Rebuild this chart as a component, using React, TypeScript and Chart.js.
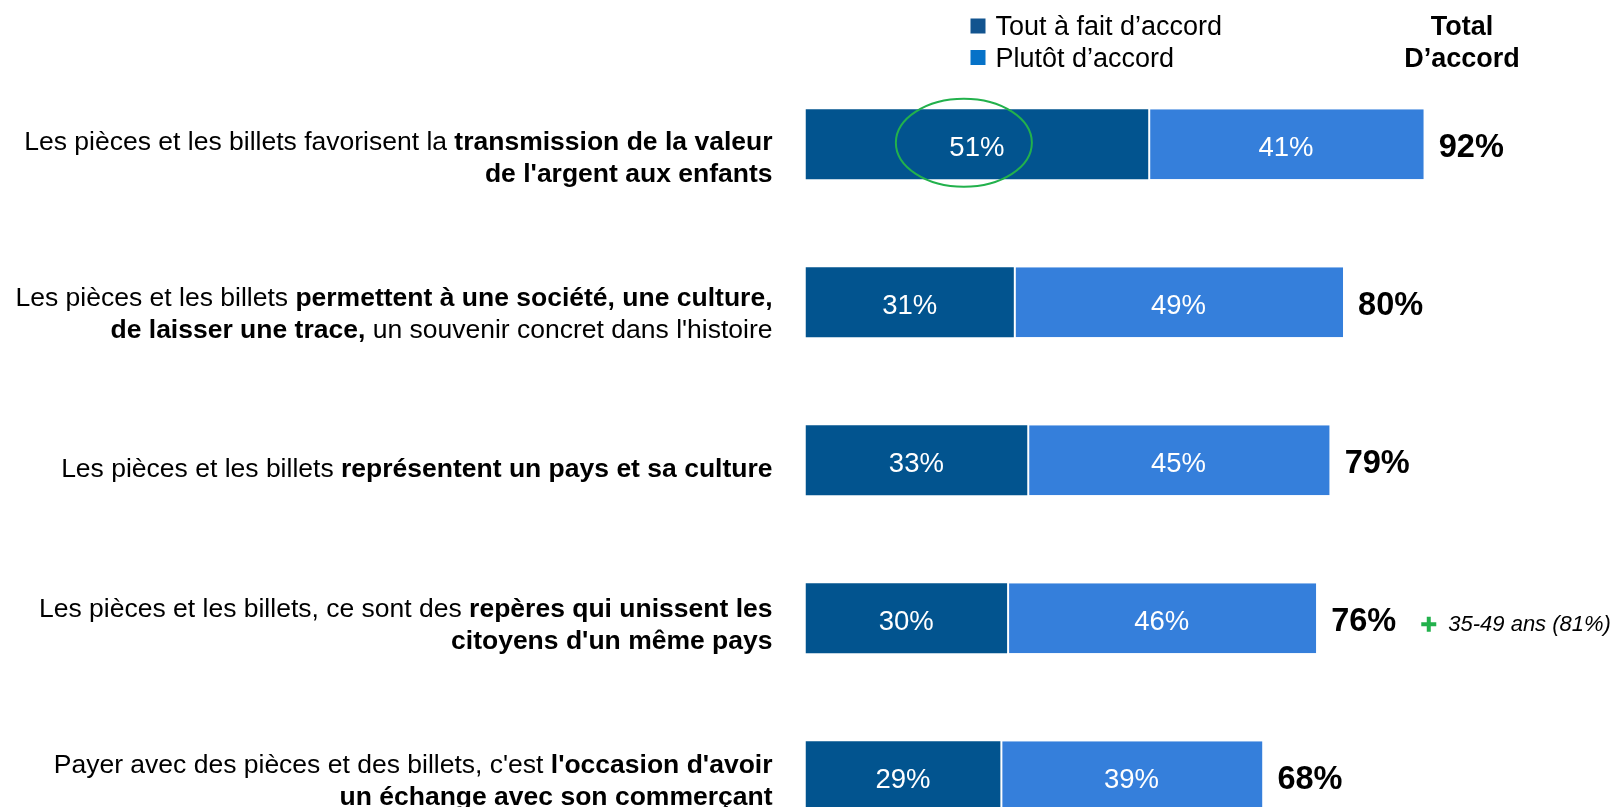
import React, { useEffect, useRef } from "react";
import { Chart, registerables } from "chart.js";

Chart.register(...registerables);

// ---- Data ----
const categories = ["q1", "q2", "q3", "q4", "q5"];
const seriesNames = ["Tout à fait d’accord", "Plutôt d’accord"];
const toutAFait = [51, 31, 33, 30, 29];
const plutot = [41, 49, 45, 46, 39];
const totals = ["92%", "80%", "79%", "76%", "68%"];
const totalHeader = ["Total", "D’accord"];
const noteIndex = 3;
const noteText = "35-49 ans (81%)";
const highlightIndex = 0;

// label lines: each line is a list of [text, bold]
const labelLines: [string, boolean][][][] = [
  [
    [["Les pièces et les billets favorisent la ", false], ["transmission de la valeur", true]],
    [["de l'argent aux enfants", true]],
  ],
  [
    [["Les pièces et les billets ", false], ["permettent à une société, une culture,", true]],
    [["de laisser une trace,", true], [" un souvenir concret dans l'histoire", false]],
  ],
  [
    [["Les pièces et les billets ", false], ["représentent un pays et sa culture", true]],
  ],
  [
    [["Les pièces et les billets, ce sont des ", false], ["repères qui unissent les", true]],
    [["citoyens d'un même pays", true]],
  ],
  [
    [["Payer avec des pièces et des billets, c'est ", false], ["l'occasion d'avoir", true]],
    [["un échange avec son commerçant", true]],
  ],
];

// ---- Styles / layout ----
const FONT = '"Liberation Sans", Arial, sans-serif';
const DARK = "#02548f";
const LIGHT = "#357fdb";
const LEGEND_DARK = "#12548f";
const LEGEND_LIGHT = "#0672c8";
const GREEN = "#22b14c";
const LABEL_NUDGE = [14, 12, 9, 7, 5];

const customPlugin = {
  id: "customDraw",
  afterDatasetsDraw(chart: any) {
    const ctx: CanvasRenderingContext2D = chart.ctx;
    const area = chart.chartArea;
    ctx.save();

    // values inside bars
    const vals = [toutAFait, plutot];
    ctx.fillStyle = "#ffffff";
    ctx.font = `27.5px ${FONT}`;
    ctx.textAlign = "center";
    ctx.textBaseline = "middle";
    [0, 1].forEach((di) => {
      const meta = chart.getDatasetMeta(di);
      meta.data.forEach((el: any, i: number) => {
        const p = el.getProps(["x", "y", "base"], true);
        ctx.fillText(vals[di][i] + "%", (p.x + p.base) / 2, p.y + 4);
      });
    });

    // totals + note
    const lightMeta = chart.getDatasetMeta(1);
    lightMeta.data.forEach((el: any, i: number) => {
      const p = el.getProps(["x", "y", "base"], true);
      const tx = p.x + 15;
      ctx.font = `bold 32.5px ${FONT}`;
      ctx.fillStyle = "#000";
      ctx.textAlign = "left";
      ctx.fillText(totals[i], tx, p.y + 4);
      if (i === noteIndex) {
        const w = ctx.measureText(totals[i]).width;
        const px = tx + w + 25;
        ctx.strokeStyle = GREEN;
        ctx.lineWidth = 4;
        ctx.beginPath();
        ctx.moveTo(px, p.y + 6);
        ctx.lineTo(px + 15, p.y + 6);
        ctx.moveTo(px + 7.5, p.y - 1.5);
        ctx.lineTo(px + 7.5, p.y + 13.5);
        ctx.stroke();
        ctx.font = `italic 22px ${FONT}`;
        ctx.fillStyle = "#000";
        ctx.fillText(noteText, px + 27, p.y + 7);
      }
    });

    // left labels
    const darkMeta = chart.getDatasetMeta(0);
    const rightX = area.left - 33;
    const lineH = 32;
    darkMeta.data.forEach((el: any, i: number) => {
      const p = el.getProps(["y"], true);
      const lines = labelLines[i];
      const n = lines.length;
      const startY = p.y + LABEL_NUDGE[i] - ((n - 1) * lineH) / 2;
      lines.forEach((segs, li) => {
        let total = 0;
        segs.forEach(([t, b]) => {
          ctx.font = `${b ? "bold " : ""}26.5px ${FONT}`;
          total += ctx.measureText(t).width;
        });
        let x = rightX - total;
        const y = startY + li * lineH;
        ctx.textAlign = "left";
        ctx.textBaseline = "middle";
        ctx.fillStyle = "#000";
        segs.forEach(([t, b]) => {
          ctx.font = `${b ? "bold " : ""}26.5px ${FONT}`;
          ctx.fillText(t, x, y);
          x += ctx.measureText(t).width;
        });
      });
    });

    // highlight ellipse
    const hel = darkMeta.data[highlightIndex];
    if (hel) {
      const p = hel.getProps(["x", "y", "base"], true);
      ctx.strokeStyle = GREEN;
      ctx.lineWidth = 2;
      ctx.beginPath();
      ctx.ellipse((p.x + p.base) / 2 - 13, p.y - 1.5, 68, 44, 0, 0, Math.PI * 2);
      ctx.stroke();
    }

    // legend
    const legendColors = [LEGEND_DARK, LEGEND_LIGHT];
    const legendYs = [26, 57.5];
    seriesNames.forEach((name, i) => {
      ctx.fillStyle = legendColors[i];
      ctx.fillRect(970.5, legendYs[i] - 7.5, 15, 15);
      ctx.fillStyle = "#000";
      ctx.font = `27px ${FONT}`;
      ctx.textAlign = "left";
      ctx.textBaseline = "middle";
      ctx.fillText(name, 995.5, legendYs[i] + 2);
    });
    ctx.font = `bold 27px ${FONT}`;
    ctx.textAlign = "center";
    totalHeader.forEach((t, i) => {
      ctx.fillText(t, 1462, legendYs[i] + 2);
    });

    ctx.restore();
  },
};

export default function App() {
  const ref = useRef<HTMLCanvasElement>(null);
  useEffect(() => {
    if (!ref.current) return;
    const chart = new Chart(ref.current, {
      type: "bar",
      data: {
        labels: categories,
        datasets: [
          {
            label: seriesNames[0],
            data: toutAFait,
            backgroundColor: DARK,
            borderWidth: 0,
            barPercentage: 0.443,
            categoryPercentage: 1,
          },
          {
            label: seriesNames[1],
            data: plutot,
            backgroundColor: LIGHT,
            borderColor: "#ffffff",
            borderWidth: { left: 2, top: 0, right: 0, bottom: 0 },
            borderSkipped: false,
            barPercentage: 0.443,
            categoryPercentage: 1,
          },
        ],
      },
      options: {
        indexAxis: "y",
        responsive: false,
        animation: false,
        devicePixelRatio: 1,
        layout: { padding: { left: 805.5, right: 133.5, top: 65.3, bottom: 0.7 } },
        plugins: { legend: { display: false }, tooltip: { enabled: false } },
        scales: {
          x: { stacked: true, min: 0, max: 100, display: false },
          y: { stacked: true, display: false },
        },
      },
      plugins: [customPlugin],
    } as any);
    return () => chart.destroy();
  }, []);
  return (
    <div
      style={{
        position: "fixed",
        left: 0,
        top: 0,
        width: 1611,
        height: 807,
        overflow: "hidden",
        background: "#fff",
      }}
    >
      <canvas ref={ref} width={1611} height={856} style={{ display: "block" }} />
    </div>
  );
}
